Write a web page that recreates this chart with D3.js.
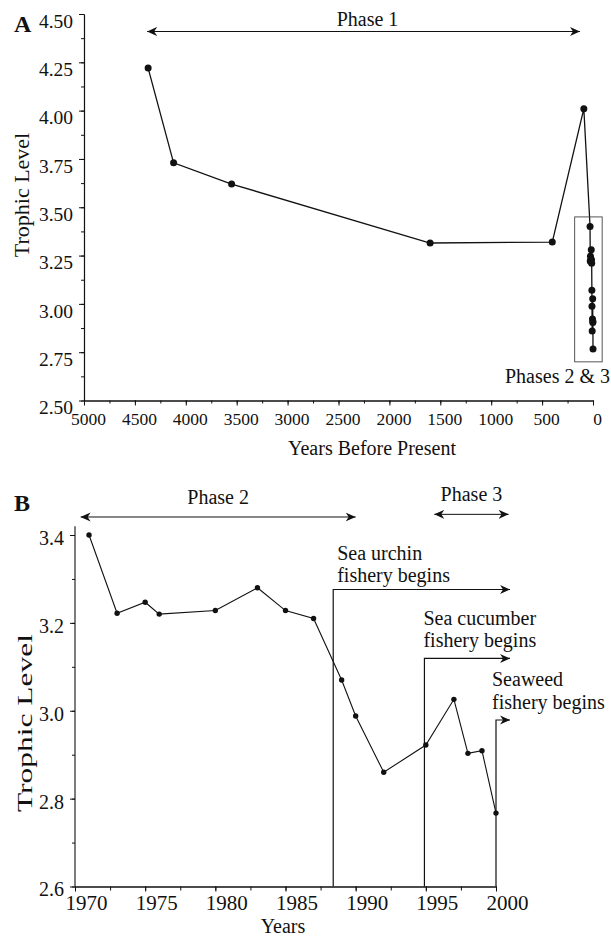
<!DOCTYPE html>
<html>
<head>
<meta charset="utf-8">
<script src="https://cdn.jsdelivr.net/npm/d3@7"></script>
<style>
  body { margin: 0; background: #fff; }
  svg text { font-family: "Liberation Serif", "Times New Roman", serif; fill: #111; }
</style>
</head>
<body>
<div id="chart"></div>
<script>
// ---- data ----
// panel A, phase 1 (years before present)
const phase1Years = [4370, 4120, 3550, 1600, 400, 90];
const phase1Levels = [4.22, 3.73, 3.62, 3.315, 3.32, 4.01];
// panel B, phases 2 & 3 (calendar years)
const modernYears = [1971, 1973, 1975, 1976, 1980, 1983, 1985, 1987, 1989, 1990, 1992, 1995, 1997, 1998, 1999, 2000];
const modernLevels = [3.40, 3.222, 3.247, 3.220, 3.228, 3.280, 3.228, 3.210, 3.070, 2.988, 2.860, 2.922, 3.026, 2.903, 2.909, 2.767];
const presentYear = 2000;

// tick labels
const yTicksA = [2.50, 2.75, 3.00, 3.25, 3.50, 3.75, 4.00, 4.25, 4.50];
const xTicksA = [5000, 4500, 4000, 3500, 3000, 2500, 2000, 1500, 1000, 500, 0];
const yTicksB = [2.6, 2.8, 3.0, 3.2, 3.4];
const xTicksB = [1970, 1975, 1980, 1985, 1990, 1995, 2000];

// annotations
const phase1Span = [4380, 128];
const phasesB = ["Phase 2", "Phase 3"];
const phasesBSpan = [[1970.4, 1990.0], [1995.6, 2000.9]];
const phasesBLevel = [3.441, 3.447];
const fisheryNames = [["Sea urchin", "fishery begins"], ["Sea cucumber", "fishery begins"], ["Seaweed", "fishery begins"]];
const fisheryStart = [1988.4, 1994.9, 2000.0];
const fisheryTop = [3.276, 3.119, 2.979];
const fisheryArrowEnd = 2001;
const boxBP = [180, -90];
const boxLevel = [2.70, 3.45];

// ---- layout ----
const W = 611, H = 937;
const ink = "#111";

const svg = d3.select("#chart").append("svg").attr("width", W).attr("height", H);
svg.append("rect").attr("width", W).attr("height", H).attr("fill", "#fff");

const defs = svg.append("defs");
defs.append("marker")
  .attr("id", "arrow")
  .attr("viewBox", "-10 -5 10 10")
  .attr("refX", 0).attr("refY", 0)
  .attr("markerWidth", 10).attr("markerHeight", 10)
  .attr("markerUnits", "userSpaceOnUse")
  .attr("orient", "auto-start-reverse")
  .append("path")
  .attr("d", "M0,0L-10,-4.5L-7,0L-10,4.5Z")
  .attr("fill", ink);

function styleAxis(g, size) {
  g.attr("font-size", size);
  g.select(".domain").attr("stroke", ink).attr("stroke-width", 1.1);
  g.selectAll(".tick line").attr("stroke", ink).attr("stroke-width", 1);
}

// ================= Panel A =================
const xA = d3.scaleLinear().domain([5000, 0]).range([84, 593]);
const yA = d3.scaleLinear().domain([2.5, 4.5]).range([400.5, 14]);

const gA = svg.append("g");

// minor ticks
gA.append("g").attr("transform", `translate(0,${yA(2.5)})`)
  .call(d3.axisBottom(xA).tickValues(d3.range(0, 5001, 250)).tickSize(3).tickFormat("").tickSizeOuter(0))
  .call(g => styleAxis(g, 17));
gA.append("g").attr("transform", `translate(${xA(5000)},0)`)
  .call(d3.axisLeft(yA).tickValues(d3.range(2.5, 4.51, 0.125)).tickSize(3).tickFormat("").tickSizeOuter(0))
  .call(g => styleAxis(g, 19.5));

// major ticks
gA.append("g").attr("transform", `translate(0,${yA(2.5)})`)
  .call(d3.axisBottom(xA).tickValues(xTicksA).tickSize(5).tickPadding(7).tickSizeOuter(0).tickFormat(d3.format("d")))
  .call(g => styleAxis(g, 17.5))
  .call(g => g.selectAll(".tick text").attr("x", 4));
gA.append("g").attr("transform", `translate(${xA(5000)},0)`)
  .call(d3.axisLeft(yA).tickValues(yTicksA).tickSize(5).tickPadding(6).tickSizeOuter(0).tickFormat(d3.format(".2f")))
  .call(g => styleAxis(g, 19.5))
  .call(g => g.selectAll(".tick text").attr("y", 7));

// combined series: phase 1 + modern record converted to years before present
const seriesA = phase1Years.map((y, i) => ({ bp: y, v: phase1Levels[i] }))
  .concat(modernYears.map((y, i) => ({ bp: presentYear - y, v: modernLevels[i] })));

gA.append("path")
  .datum(seriesA)
  .attr("fill", "none")
  .attr("stroke", ink)
  .attr("stroke-width", 1.3)
  .attr("d", d3.line().x(d => xA(d.bp)).y(d => yA(d.v)));

gA.selectAll("circle.pt")
  .data(seriesA)
  .join("circle")
  .attr("class", "pt")
  .attr("cx", d => xA(d.bp))
  .attr("cy", d => yA(d.v))
  .attr("r", 3.5)
  .attr("fill", ink);

// box around phases 2 & 3
gA.append("rect")
  .attr("x", xA(boxBP[0]))
  .attr("y", yA(boxLevel[1]))
  .attr("width", xA(boxBP[1]) - xA(boxBP[0]))
  .attr("height", yA(boxLevel[0]) - yA(boxLevel[1]))
  .attr("fill", "none")
  .attr("stroke", "#444")
  .attr("stroke-width", 0.9);
gA.append("text")
  .attr("x", 610).attr("y", 383)
  .attr("text-anchor", "end")
  .attr("font-size", 20)
  .text("Phases 2 & 3");

// phase 1 arrow
const yPhase1 = 31.5;
gA.append("line")
  .attr("x1", xA(phase1Span[0])).attr("x2", xA(phase1Span[1]))
  .attr("y1", yPhase1).attr("y2", yPhase1)
  .attr("stroke", ink).attr("stroke-width", 1)
  .attr("marker-start", "url(#arrow)")
  .attr("marker-end", "url(#arrow)");
gA.append("text")
  .attr("x", (xA(phase1Span[0]) + xA(phase1Span[1])) / 2 + 4)
  .attr("y", yPhase1 - 6)
  .attr("text-anchor", "middle")
  .attr("font-size", 20)
  .text("Phase 1");

// titles
gA.append("text").attr("x", 14).attr("y", 32)
  .attr("font-size", 24).attr("font-weight", "bold").text("A");
gA.append("text")
  .attr("transform", `translate(29,195) rotate(-90)`)
  .attr("text-anchor", "middle")
  .attr("font-size", 22)
  .text("Trophic Level");
gA.append("text")
  .attr("x", 372).attr("y", 455)
  .attr("text-anchor", "middle")
  .attr("font-size", 20)
  .text("Years Before Present");

// ================= Panel B =================
const xB = d3.scaleLinear().domain([1970, 2000]).range([75, 496]);
const yB = d3.scaleLinear().domain([2.6, 3.4]).range([886.5, 535]);

const gB = svg.append("g");

gB.append("g").attr("transform", `translate(0,${yB(2.6)})`)
  .call(d3.axisBottom(xB).tickValues(d3.range(1970, 2000.1, 2.5)).tickSize(4).tickFormat("").tickSizeOuter(0))
  .call(g => styleAxis(g, 21));
gB.append("g").attr("transform", `translate(${xB(1970)},0)`)
  .call(d3.axisLeft(yB).tickValues(d3.range(2.6, 3.41, 0.1)).tickSize(3).tickFormat("").tickSizeOuter(0))
  .call(g => styleAxis(g, 20))
  .call(g => g.select(".domain").remove());

gB.append("g").attr("transform", `translate(0,${yB(2.6)})`)
  .call(d3.axisBottom(xB).tickValues(xTicksB).tickSize(5).tickPadding(4).tickSizeOuter(0).tickFormat(d3.format("d")))
  .call(g => styleAxis(g, 21))
  .call(g => g.selectAll(".tick text").attr("x", 11));
gB.append("g").attr("transform", `translate(${xB(1970)},0)`)
  .call(d3.axisLeft(yB).tickValues(yTicksB).tickSize(5).tickPadding(6).tickSizeOuter(0).tickFormat(d3.format(".1f")))
  .call(g => styleAxis(g, 20))
  .call(g => g.select(".domain").remove())
  .call(g => g.selectAll(".tick text").attr("y", 3));
// y axis spine runs a little above 3.4
gB.append("line")
  .attr("x1", xB(1970)).attr("x2", xB(1970))
  .attr("y1", yB(2.6)).attr("y2", yB(3.42))
  .attr("stroke", ink).attr("stroke-width", 1.1);

// fishery start markers
fisheryStart.forEach((yr, i) => {
  const x0 = xB(yr), yTop = yB(fisheryTop[i]);
  gB.append("path")
    .attr("d", `M${x0},${yB(2.6)}V${yTop}H${xB(fisheryArrowEnd)}`)
    .attr("fill", "none")
    .attr("stroke", ink)
    .attr("stroke-width", 1.2)
    .attr("marker-end", "url(#arrow)");
});
const labelNudgeX = [4, -1, -4];
const labelNudgeY = [-7, -11, -11];
fisheryNames.forEach((lines, i) => {
  const t = gB.append("text")
    .attr("x", xB(fisheryStart[i]) + labelNudgeX[i])
    .attr("y", yB(fisheryTop[i]) + labelNudgeY[i] - 22.5)
    .attr("font-size", 20);
  lines.forEach((s, j) => {
    t.append("tspan")
      .attr("x", xB(fisheryStart[i]) + labelNudgeX[i])
      .attr("dy", j === 0 ? 0 : 22.5)
      .text(s);
  });
});

// series
const seriesB = modernYears.map((y, i) => ({ year: y, v: modernLevels[i] }));
gB.append("path")
  .datum(seriesB)
  .attr("fill", "none")
  .attr("stroke", ink)
  .attr("stroke-width", 1.1)
  .attr("d", d3.line().x(d => xB(d.year)).y(d => yB(d.v)));
gB.selectAll("circle.pt")
  .data(seriesB)
  .join("circle")
  .attr("class", "pt")
  .attr("cx", d => xB(d.year))
  .attr("cy", d => yB(d.v))
  .attr("r", 2.7)
  .attr("fill", ink);

// phase arrows
phasesB.forEach((name, i) => {
  const [a, b] = phasesBSpan[i];
  const yy = yB(phasesBLevel[i]);
  gB.append("line")
    .attr("x1", xB(a)).attr("x2", xB(b))
    .attr("y1", yy).attr("y2", yy)
    .attr("stroke", ink).attr("stroke-width", 1)
    .attr("marker-start", "url(#arrow)")
    .attr("marker-end", "url(#arrow)");
  gB.append("text")
    .attr("x", (xB(a) + xB(b)) / 2)
    .attr("y", yy - 13)
    .attr("text-anchor", "middle")
    .attr("font-size", 20)
    .text(name);
});

// titles
gB.append("text").attr("x", 14).attr("y", 511)
  .attr("font-size", 24).attr("font-weight", "bold").text("B");
gB.append("text")
  .attr("transform", `translate(32,723) rotate(-90)`)
  .attr("text-anchor", "middle")
  .attr("font-size", 21)
  .attr("textLength", 178)
  .attr("lengthAdjust", "spacingAndGlyphs")
  .text("Trophic Level");
gB.append("text")
  .attr("x", 283).attr("y", 933)
  .attr("text-anchor", "middle")
  .attr("font-size", 20)
  .text("Years");
</script>
</body>
</html>
